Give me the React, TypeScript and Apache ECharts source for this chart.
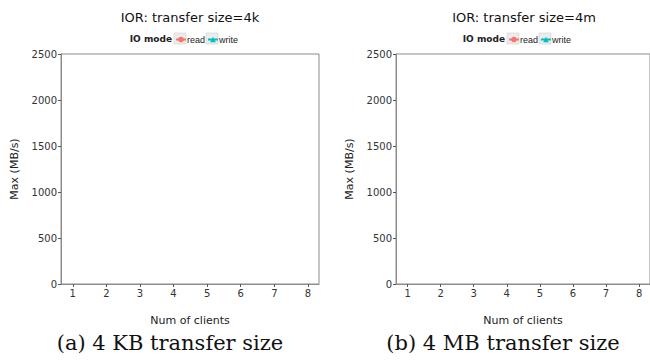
import React, { useEffect, useRef } from "react";
import * as echarts from "echarts";

const clients = [1, 2, 3, 4, 5, 6, 7, 8];
const readValues4k: number[] = [];
const writeValues4k: number[] = [];
const readValues4m: number[] = [];
const writeValues4m: number[] = [];
const yTicks = [0, 500, 1000, 1500, 2000, 2500];
const titles = ["IOR: transfer size=4k", "IOR: transfer size=4m"];
const captions = ["(a) 4 KB transfer size", "(b) 4 MB transfer size"];
const seriesNames = ["read", "write"];

const FONT = "DejaVu Sans";
const AXIS = "#8c8c8c";
const READ = "#F8766D";
const WRITE = "#00BFC4";

export default function App() {
  const ref = useRef<HTMLDivElement>(null);
  useEffect(() => {
    const chart = echarts.init(ref.current!, null, { renderer: "svg" });
    const grids = [
      { left: 61, top: 54, width: 258, height: 230 },
      { left: 396, top: 54, width: 257, height: 230 },
    ];
    const centers = [190, 524];
    const legendLeft = [
      [175, 207],
      [508, 540],
    ];
    const xAxis = grids.map((_, i) => ({
      type: "value",
      gridIndex: i,
      min: 0.65,
      max: 8.33,
      axisLine: { show: true, lineStyle: { color: AXIS } },
      axisTick: { show: true, customValues: clients, length: 3, lineStyle: { color: "#555" } },
      axisLabel: { customValues: clients, fontFamily: FONT, fontSize: 10, color: "#333", margin: 4 },
      splitLine: { show: false },
      name: "Num of clients",
      nameLocation: "middle",
      nameGap: 31,
      nameTextStyle: { fontFamily: FONT, fontSize: 11, color: "#222" },
    }));
    const yAxis = grids.map((_, i) => ({
      type: "value",
      gridIndex: i,
      min: 0,
      max: 2500,
      interval: 500,
      axisLine: { show: true, lineStyle: { color: AXIS } },
      axisTick: { show: true, length: 3, lineStyle: { color: "#555" } },
      axisLabel: {
        fontFamily: FONT,
        fontSize: 10,
        color: "#333",
        margin: 4,
        customValues: yTicks,
        formatter: (v: number) => String(v),
      },
      splitLine: { show: false },
      name: "Max (MB/s)",
      nameLocation: "middle",
      nameGap: 41,
      nameRotate: 90,
      nameTextStyle: { fontFamily: FONT, fontSize: 11, color: "#222" },
    }));
    const mk = (name: string, color: string, symbol: string, vals: number[], idx: number) => ({
      type: "line",
      name,
      xAxisIndex: idx,
      yAxisIndex: idx,
      data: vals.map((v, k) => [clients[k], v]),
      itemStyle: { color },
      lineStyle: { color, width: 2 },
      symbol,
      symbolSize: 5,
    });
    const legends: any[] = [];
    const boxes: any[] = [];
    [0, 1].forEach((i) => {
      seriesNames.forEach((n, j) => {
        legends.push({
          data: [n],
          left: legendLeft[i][j],
          top: 35,
          itemWidth: 10,
          itemHeight: 7,
          padding: 0,
          textStyle: { fontFamily: "Liberation Sans", fontSize: 9, color: "#222", padding: [0, 0, 0, -4] },
        });
        boxes.push({
          type: "rect",
          z: -1,
          shape: { x: legendLeft[i][j] - 1, y: 33, width: 12, height: 11 },
          style: { fill: "#ececec", stroke: "#d0d0d0", lineWidth: 0.6 },
        });
      });
    });
    chart.setOption({
      animation: false,
      grid: grids.map((g) => ({ ...g, show: true, borderColor: AXIS, borderWidth: 1, backgroundColor: "transparent" })),
      legend: legends,
      xAxis,
      yAxis,
      series: [
        mk("read", READ, "circle", readValues4k, 0),
        mk("write", WRITE, "triangle", writeValues4k, 0),
        mk("read", READ, "circle", readValues4m, 1),
        mk("write", WRITE, "triangle", writeValues4m, 1),
      ],
      graphic: [
        ...boxes,
        ...[0, 1].map((i) => ({
          type: "text",
          x: centers[i],
          y: 17,
          style: { text: titles[i], font: `13px "${FONT}"`, fill: "#111", textAlign: "center", textVerticalAlign: "middle" },
        })),
        ...[0, 1].map((i) => ({
          type: "text",
          x: legendLeft[i][0] - 3,
          y: 39,
          style: { text: "IO mode", font: `bold 9px "${FONT}"`, fill: "#222", textAlign: "right", textVerticalAlign: "middle" },
        })),
        ...[0, 1].map((i) => ({
          type: "text",
          x: [170, 503][i],
          y: 343,
          style: { text: captions[i], font: `21px "DejaVu Serif"`, fill: "#111", textAlign: "center", textVerticalAlign: "middle" },
        })),
      ],
    });
    return () => chart.dispose();
  }, []);
  return <div ref={ref} style={{ position: "fixed", left: 0, top: 0, width: 650, height: 360, background: "#fff" }} />;
}
